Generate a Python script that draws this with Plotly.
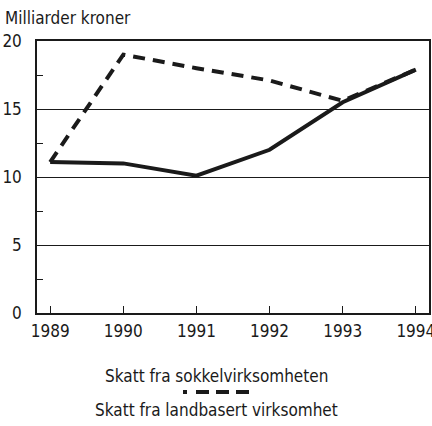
import plotly.graph_objects as go

years = [1989, 1990, 1991, 1992, 1993, 1994]
sokkel = [11.1, 11.0, 10.1, 12.0, 15.5, 17.9]
landbasert = [11.1, 19.0, 18.0, 17.1, 15.6, 17.9]

labels = ["Skatt fra sokkelvirksomheten", "Skatt fra landbasert virksomhet"]
ytitle = "Milliarder kroner"

FONT = "DejaVu Sans Condensed, Liberation Sans, sans-serif"
INK = "#1a1a1a"

fig = go.Figure()
fig.add_trace(go.Scatter(x=years, y=sokkel, mode="lines", name=labels[0],
                         line=dict(color=INK, width=4)))
fig.add_trace(go.Scatter(x=years, y=landbasert, mode="lines", name=labels[1],
                         line=dict(color=INK, width=4, dash="12px,8px")))

fig.update_layout(
    width=432, height=426,
    margin=dict(l=37, r=3, t=41, b=113, autoexpand=False),
    paper_bgcolor="white", plot_bgcolor="white",
    showlegend=False,
    font=dict(family=FONT, size=17, color=INK),
)
fig.update_xaxes(range=[1988.82, 1994.18], tickvals=years,
                 ticks="inside", ticklen=7, tickcolor=INK, tickwidth=1,
                 showline=True, linecolor=INK, linewidth=1.5, mirror=True,
                 showgrid=False, zeroline=False, automargin=False,
                 ticklabeloverflow="allow", ticklabelstandoff=2)
fig.update_yaxes(range=[0, 20], tickvals=[0, 5, 10, 15, 20],
                 ticks="", ticklabelstandoff=10, automargin=False,
                 minor=dict(ticks="inside", tickvals=[2.5, 7.5, 12.5, 17.5],
                            ticklen=6, tickcolor=INK, showgrid=False),
                 showline=True, linecolor=INK, linewidth=1.5, mirror=True,
                 showgrid=True, gridcolor=INK, gridwidth=1, zeroline=False)

# y-axis unit above the plot, flush left
fig.add_annotation(text=ytitle, xref="paper", yref="paper",
                   x=-34 / 392, xanchor="left", y=(313 - 18) / 272,
                   yanchor="middle", showarrow=False,
                   font=dict(family=FONT, size=17, color=INK))

# legend: text, dashed sample, text (stacked, centred under the plot)
cx = (216 - 37) / 392
fig.add_annotation(text=labels[0], xref="paper", yref="paper", x=cx,
                   xanchor="center", y=(313 - 376) / 272, yanchor="middle",
                   showarrow=False, font=dict(family=FONT, size=17, color=INK))
fig.add_shape(type="line", xref="paper", yref="paper",
              x0=(183 - 37) / 392, x1=(250 - 37) / 392,
              y0=(313 - 392) / 272, y1=(313 - 392) / 272,
              line=dict(color=INK, width=4, dash="4px,9px,13px,7px,13px,7px,13px"))
fig.add_annotation(text=labels[1], xref="paper", yref="paper", x=cx,
                   xanchor="center", y=(313 - 410) / 272, yanchor="middle",
                   showarrow=False, font=dict(family=FONT, size=17, color=INK))

# drop the default 8px body margin so the figure fills the window
fig.write_html("out.html", config={"displayModeBar": False},
               post_script="document.body.style.margin='0';")
